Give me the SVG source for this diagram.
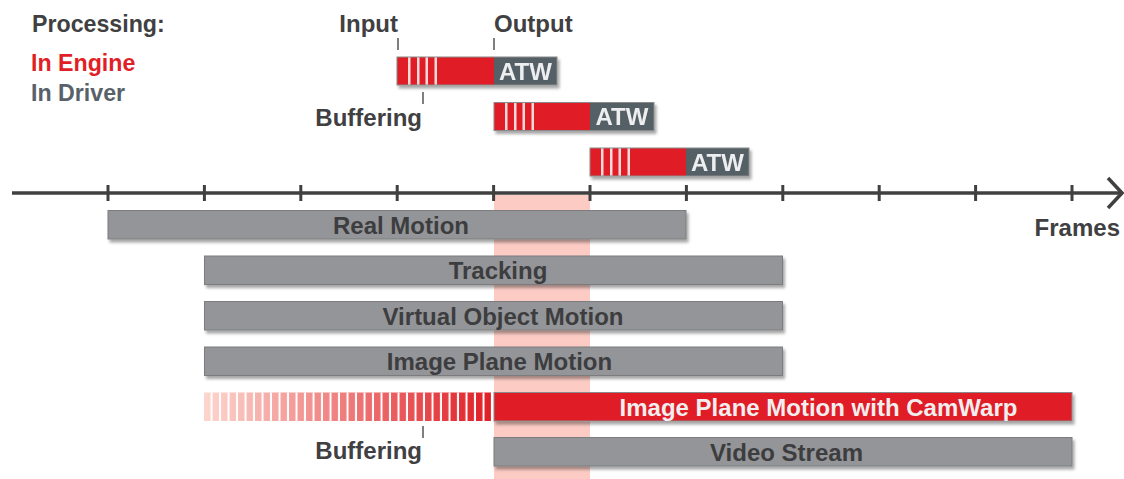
<svg xmlns="http://www.w3.org/2000/svg" width="1124" height="479" viewBox="0 0 1124 479">
  <defs>
    <style>
      text { font-family: "Liberation Sans", Arial, sans-serif; font-weight: bold; font-size: 24px; }
      .dark { fill: #404042; }
      .legend text { font-size: 23.2px; }
      .lbl { fill: #3d3d3f; text-anchor: middle; }
      .lblw { fill: #f0eeee; text-anchor: middle; }
      .atw { fill: #eceef0; text-anchor: middle; font-size: 24px; }
      .bar { fill: #939598; stroke: #7b7c7f; stroke-width: 1; }
      .redbar { fill: #e01f26; stroke: #8a8a8c; stroke-width: 1; }
      .red { fill: #e01f26; }
      .drv { fill: #555e66; }
      .frame { fill: none; stroke: #8a8a8c; stroke-width: 1; }
      .stripe { fill: #f6d9d9; }
      .axis { stroke: #404040; stroke-width: 3.5; fill: none; }
      .tick { stroke: #404040; stroke-width: 3; }
      .mark { stroke: #555; stroke-width: 1.5; }
    </style>
    <filter id="shadow" x="-5%" y="-30%" width="110%" height="180%">
      <feDropShadow dx="2" dy="3" stdDeviation="1.6" flood-color="#000" flood-opacity="0.35"/>
    </filter>
    <linearGradient id="fade" gradientUnits="userSpaceOnUse" x1="204" y1="0" x2="491" y2="0">
      <stop offset="0" stop-color="#fcd6ce"/>
      <stop offset="1" stop-color="#e01f26"/>
    </linearGradient>
    <pattern id="gaps" patternUnits="userSpaceOnUse" x="204" y="0" width="8.5" height="479">
      <rect x="6.5" y="0" width="2" height="479" fill="#ffffff"/>
    </pattern>
  </defs>

  <!-- legend -->
  <g id="legend" class="legend">
    <text x="32" y="32" class="dark">Processing:</text>
    <text x="31" y="71" fill="#e01f26">In Engine</text>
    <text x="31" y="101" fill="#58616a">In Driver</text>
  </g>

  <!-- highlighted frame column -->
  <rect id="highlight" x="494" y="195" width="96" height="284" fill="#fbcbc4"/>

  <!-- frame pipeline blocks -->
  <g id="frame1" filter="url(#shadow)">
    <rect x="397" y="57" width="97" height="28" class="red"/>
    <rect x="494" y="57" width="63" height="28" class="drv"/>
    <rect x="408" y="57" width="2.5" height="28" class="stripe"/>
    <rect x="417" y="57" width="2.5" height="28" class="stripe"/>
    <rect x="425.5" y="57" width="2.5" height="28" class="stripe"/>
    <rect x="434.5" y="57" width="2.5" height="28" class="stripe"/>
    <rect x="397" y="57" width="160" height="28" class="frame"/>
    <text x="525.5" y="79.5" class="atw">ATW</text>
  </g>
  <g id="frame2" filter="url(#shadow)">
    <rect x="494" y="102.5" width="96" height="28" class="red"/>
    <rect x="590" y="102.5" width="64" height="28" class="drv"/>
    <rect x="505" y="102.5" width="2.5" height="28" class="stripe"/>
    <rect x="514" y="102.5" width="2.5" height="28" class="stripe"/>
    <rect x="522.5" y="102.5" width="2.5" height="28" class="stripe"/>
    <rect x="531.5" y="102.5" width="2.5" height="28" class="stripe"/>
    <rect x="494" y="102.5" width="160" height="28" class="frame"/>
    <text x="622" y="125" class="atw">ATW</text>
  </g>
  <g id="frame3" filter="url(#shadow)">
    <rect x="590" y="148" width="96" height="28" class="red"/>
    <rect x="686" y="148" width="63" height="28" class="drv"/>
    <rect x="601" y="148" width="2.5" height="28" class="stripe"/>
    <rect x="610" y="148" width="2.5" height="28" class="stripe"/>
    <rect x="618.5" y="148" width="2.5" height="28" class="stripe"/>
    <rect x="627.5" y="148" width="2.5" height="28" class="stripe"/>
    <rect x="590" y="148" width="159" height="28" class="frame"/>
    <text x="717.5" y="170.5" class="atw">ATW</text>
  </g>

  <!-- input / output / buffering markers -->
  <g id="markers">
    <line x1="398" y1="38" x2="398" y2="50" class="mark"/>
    <line x1="494" y1="38" x2="494" y2="50" class="mark"/>
    <line x1="423" y1="92" x2="423" y2="104" class="mark"/>
    <line x1="423" y1="426" x2="423" y2="438" class="mark"/>
    <text x="398" y="32" class="dark" text-anchor="end">Input</text>
    <text x="494" y="32" class="dark">Output</text>
    <text x="422" y="126" class="dark" text-anchor="end">Buffering</text>
    <text x="422" y="459" class="dark" text-anchor="end">Buffering</text>
  </g>

  <!-- time axis -->
  <g id="axis">
    <line x1="12" y1="193" x2="1120" y2="193" class="axis"/>
    <polyline points="1108,178 1122,193 1108,208" class="axis"/>
    <g class="tick">
      <line x1="108" y1="185" x2="108" y2="201"/>
      <line x1="204.4" y1="185" x2="204.4" y2="201"/>
      <line x1="300.8" y1="185" x2="300.8" y2="201"/>
      <line x1="397.2" y1="185" x2="397.2" y2="201"/>
      <line x1="493.6" y1="185" x2="493.6" y2="201"/>
      <line x1="590" y1="185" x2="590" y2="201"/>
      <line x1="686.4" y1="185" x2="686.4" y2="201"/>
      <line x1="782.8" y1="185" x2="782.8" y2="201"/>
      <line x1="879.2" y1="185" x2="879.2" y2="201"/>
      <line x1="975.6" y1="185" x2="975.6" y2="201"/>
      <line x1="1072" y1="185" x2="1072" y2="201"/>
    </g>
    <text x="1120" y="236" class="dark" text-anchor="end">Frames</text>
  </g>

  <!-- motion bars -->
  <g id="real-motion">
    <rect x="108" y="210.5" width="578" height="28.5" class="bar" filter="url(#shadow)"/>
    <text x="401" y="233.5" class="lbl">Real Motion</text>
  </g>
  <g id="tracking">
    <rect x="204.5" y="256" width="578" height="28.5" class="bar" filter="url(#shadow)"/>
    <text x="498" y="279" class="lbl">Tracking</text>
  </g>
  <g id="virtual-object-motion">
    <rect x="204.5" y="301.5" width="578" height="28.5" class="bar" filter="url(#shadow)"/>
    <text x="503" y="324.5" class="lbl">Virtual Object Motion</text>
  </g>
  <g id="image-plane-motion">
    <rect x="204.5" y="347" width="578" height="28.5" class="bar" filter="url(#shadow)"/>
    <text x="499.5" y="370" class="lbl">Image Plane Motion</text>
  </g>
  <g id="buffered-frames">
    <rect x="204" y="392.5" width="287" height="28.5" fill="url(#fade)"/>
    <rect x="204" y="392.5" width="287" height="28.5" fill="url(#gaps)"/>
  </g>
  <g id="camwarp">
    <rect x="494" y="392.5" width="578" height="28.5" class="redbar" filter="url(#shadow)"/>
    <text x="818.5" y="415.5" class="lblw">Image Plane Motion with CamWarp</text>
  </g>
  <g id="video-stream">
    <rect x="494" y="437.5" width="578" height="28.5" class="bar" filter="url(#shadow)"/>
    <text x="786.5" y="460.5" class="lbl">Video Stream</text>
  </g>
</svg>
